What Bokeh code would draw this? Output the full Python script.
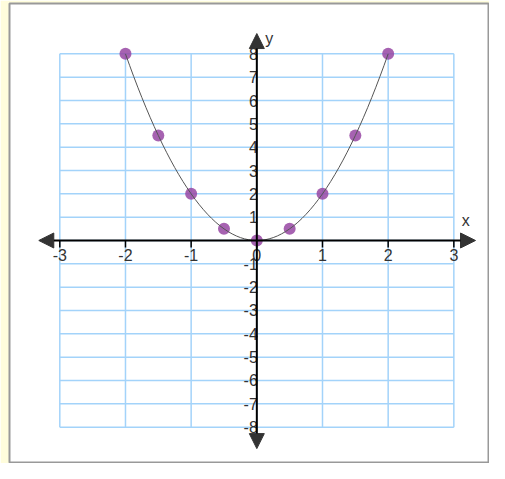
from bokeh.plotting import figure
from bokeh.models import Arrow, NormalHead, ColumnDataSource, Range1d
from bokeh.core.properties import value
from bokeh.embed import file_html
from bokeh.resources import INLINE

# ---- data ----
point_x = [-2, -1.5, -1, -0.5, 0, 0.5, 1, 1.5, 2]
point_y = [8, 4.5, 2, 0.5, 0, 0.5, 2, 4.5, 8]
x_ticks = [-3, -2, -1, 0, 1, 2, 3]
y_ticks = [-8, -7, -6, -5, -4, -3, -2, -1, 1, 2, 3, 4, 5, 6, 7, 8]
x_grid = [-3, -2, -1, 0, 1, 2, 3]
y_grid = list(range(-8, 9))

FONT = value("Liberation Sans")

p = figure(width=489, height=463, output_backend="svg", toolbar_location=None,
           x_range=Range1d(-3.766, 3.543), y_range=Range1d(-9.558, 10.158),
           min_border_left=9, min_border_top=3, min_border_right=0,
           min_border_bottom=0)
p.axis.visible = False
p.grid.visible = False
p.background_fill_color = "white"
p.border_fill_color = "#fffddc"
p.outline_line_color = "#999999"
p.outline_line_width = 2

# grid
xg0, xg1 = min(x_grid), max(x_grid)
yg0, yg1 = min(y_grid), max(y_grid)
p.segment(x0=x_grid, y0=[yg0] * len(x_grid), x1=x_grid, y1=[yg1] * len(x_grid),
          line_color="#a3d3fa", line_width=1.5)
p.segment(x0=[xg0] * len(y_grid), y0=y_grid, x1=[xg1] * len(y_grid), y1=y_grid,
          line_color="#a3d3fa", line_width=1.5)

# axes with arrows
head = dict(size=15, fill_color="#333333", line_color="#333333")
p.add_layout(Arrow(x_start=-3.32, y_start=0, x_end=3.33, y_end=0,
                   line_color="black", line_width=2,
                   start=NormalHead(**head), end=NormalHead(**head)))
p.add_layout(Arrow(x_start=0, y_start=-8.92, x_end=0, y_end=8.87,
                   line_color="black", line_width=2,
                   start=NormalHead(**head), end=NormalHead(**head)))

# x ticks
p.segment(x0=x_ticks, y0=[0] * len(x_ticks), x1=x_ticks, y1=[-0.3] * len(x_ticks),
          line_color="black", line_width=1.5)

# tick labels
p.text(x=x_ticks, y=[-0.38] * len(x_ticks), text=[str(t) for t in x_ticks],
       text_font=FONT, text_font_size="16px", text_color="#333333",
       text_align="center", text_baseline="top")
p.text(x=[0.015] * len(y_ticks), y=y_ticks, text=[str(t) for t in y_ticks],
       text_font=FONT, text_font_size="16px", text_color="#333333",
       text_align="right", text_baseline="middle")

# axis names
p.text(x=[3.18], y=[0.86], text=["x"], text_font=FONT, text_font_size="16px",
       text_color="#333333", text_align="center", text_baseline="middle")
p.text(x=[0.19], y=[8.66], text=["y"], text_font=FONT, text_font_size="16px",
       text_color="#333333", text_align="center", text_baseline="middle")

# points
p.scatter(point_x, point_y, size=12, fill_color="#9646a3", fill_alpha=0.85,
          line_color=None)

# smooth curve through the points (cubic bezier with data-derived tangents)
n = len(point_x)
tx, ty = [], []
for i in range(n):
    if i == 0:
        dx = (-3 * point_x[0] + 4 * point_x[1] - point_x[2]) / 2
        dy = (-3 * point_y[0] + 4 * point_y[1] - point_y[2]) / 2
    elif i == n - 1:
        dx = (3 * point_x[-1] - 4 * point_x[-2] + point_x[-3]) / 2
        dy = (3 * point_y[-1] - 4 * point_y[-2] + point_y[-3]) / 2
    else:
        dx = (point_x[i + 1] - point_x[i - 1]) / 2
        dy = (point_y[i + 1] - point_y[i - 1]) / 2
    tx.append(dx)
    ty.append(dy)
src = ColumnDataSource(dict(
    x0=point_x[:-1], y0=point_y[:-1], x1=point_x[1:], y1=point_y[1:],
    cx0=[point_x[i] + tx[i] / 3 for i in range(n - 1)],
    cy0=[point_y[i] + ty[i] / 3 for i in range(n - 1)],
    cx1=[point_x[i + 1] - tx[i + 1] / 3 for i in range(n - 1)],
    cy1=[point_y[i + 1] - ty[i + 1] / 3 for i in range(n - 1)],
))
p.bezier(x0="x0", y0="y0", x1="x1", y1="y1", cx0="cx0", cy0="cy0",
         cx1="cx1", cy1="cy1", source=src, line_color="#555555", line_width=1)

open("out.html", "w").write(file_html(p, INLINE))
